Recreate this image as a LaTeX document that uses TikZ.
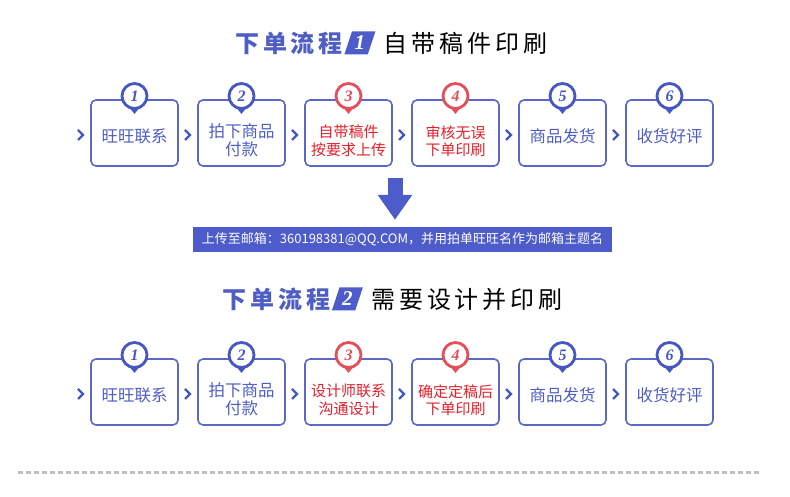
\documentclass[tikz,border=0pt]{standalone}
\usepackage{fontspec}
\newfontfamily\cjk{Noto Sans CJK SC}
\newfontfamily\cjktitle{Noto Sans CJK SC}[LetterSpace=16]
\newfontfamily\numserif{Liberation Serif}
\usepackage{tikz}
\usetikzlibrary{positioning, shapes.geometric, arrows.meta}

\definecolor{boxblue}{HTML}{5B68C9}
\definecolor{ringblue}{HTML}{4557C2}
\definecolor{txtblue}{HTML}{4F5EC4}
\definecolor{ringred}{HTML}{E4505A}
\definecolor{txtred}{HTML}{E5202B}
\definecolor{fillblue}{HTML}{4D5BCB}

% pointer under a numbered badge
\newcommand\pinpoint[2]{\fill[#2] ([shift={(-5pt,2pt)}]#1.south) -- ([shift={(5pt,2pt)}]#1.south) -- ([yshift=-4pt]#1.south) -- cycle;}

\begin{document}
\begin{tikzpicture}[
      x=1pt, y=1pt,
      box/.style={draw=boxblue, line width=1.6pt, rounded corners=5pt, minimum width=87pt, minimum height=66pt, outer sep=0pt},
      steptext/.style={align=center, inner sep=0pt, text=txtblue, font=\cjk\fontsize{16.5}{18}\selectfont},
      redtext/.style={steptext, text=txtred, font=\cjk\fontsize{15}{17.5}\selectfont},
      badge/.style={circle, draw=ringblue, line width=2.8pt, fill=white, minimum size=25pt, inner sep=0pt, text=ringblue, font=\numserif\bfseries\itshape\fontsize{16}{16}\selectfont},
      redbadge/.style={badge, draw=ringred, text=ringred},
      chev/.style={draw=ringblue, line width=2.3pt},
      headblue/.style={inner sep=0pt, text=txtblue, font=\cjktitle\bfseries\fontsize{24}{24}\selectfont},
      headblack/.style={inner sep=0pt, text=black, font=\cjktitle\fontsize{24}{24}\selectfont},
      numtag/.style={trapezium, trapezium left angle=70, trapezium right angle=110, trapezium stretches=true, fill=fillblue, text=white, minimum width=31pt, minimum height=23pt, inner sep=0pt, font=\numserif\bfseries\itshape\fontsize{21}{21}\selectfont},
      banner/.style={fill=fillblue, text=white, minimum width=419pt, minimum height=25pt, inner sep=0pt, font=\cjk\fontsize{13}{13}\selectfont},
      bigarrow/.style={draw=fillblue, line width=15pt, -{Triangle[width=33pt, length=25pt]}, shorten >=7pt},
      divider/.style={draw=gray!50, line width=3pt, dash pattern=on 5pt off 3pt}
    ]
    \fill[white] (0,0) rectangle (790,497);
    \useasboundingbox (0,0) rectangle (790,497);

    % titles
    \node[headblue] (t1) at (289,454) {下单流程};
    \node[numtag, right=5pt of t1] (g1) {1};
    \node[headblack, right=12pt of g1] (h1) {自带稿件印刷};
    \node[headblue] (t2) at (276.5,198) {下单流程};
    \node[numtag, right=5pt of t2] (g2) {2};
    \node[headblack, right=12pt of g2] (h2) {需要设计并印刷};

    % row 1
    \node[box] (s11) at (134.5,364) {};
    \node[box, right=20pt of s11] (s12) {};
    \node[box, right=20pt of s12] (s13) {};
    \node[box, right=20pt of s13] (s14) {};
    \node[box, right=20pt of s14] (s15) {};
    \node[box, right=20pt of s15] (s16) {};

    \node[steptext] (x11) at ([yshift=-3pt]s11.center) {旺旺联系};
    \node[steptext] (x12) at ([yshift=-7pt]s12.center) {拍下商品\\付款};
    \node[redtext] (x13) at ([yshift=-8pt]s13.center) {自带稿件\\按要求上传};
    \node[redtext] (x14) at ([yshift=-8pt]s14.center) {审核无误\\下单印刷};
    \node[steptext] (x15) at ([yshift=-3pt]s15.center) {商品发货};
    \node[steptext] (x16) at ([yshift=-3pt]s16.center) {收货好评};

    % row 2
    \node[box, below=193pt of s11] (s21) {};
    \node[box, right=20pt of s21] (s22) {};
    \node[box, right=20pt of s22] (s23) {};
    \node[box, right=20pt of s23] (s24) {};
    \node[box, right=20pt of s24] (s25) {};
    \node[box, right=20pt of s25] (s26) {};

    \node[steptext] (x21) at ([yshift=-3pt]s21.center) {旺旺联系};
    \node[steptext] (x22) at ([yshift=-7pt]s22.center) {拍下商品\\付款};
    \node[redtext] (x23) at ([yshift=-8pt]s23.center) {设计师联系\\沟通设计};
    \node[redtext] (x24) at ([yshift=-8pt]s24.center) {确定定稿后\\下单印刷};
    \node[steptext] (x25) at ([yshift=-3pt]s25.center) {商品发货};
    \node[steptext] (x26) at ([yshift=-3pt]s26.center) {收货好评};

    % badges
    \node[badge] (n11) at ([yshift=4pt]s11.north) {1};
    \node[badge] (n12) at ([yshift=4pt]s12.north) {2};
    \node[redbadge] (n13) at ([yshift=4pt]s13.north) {3};
    \node[redbadge] (n14) at ([yshift=4pt]s14.north) {4};
    \node[badge] (n15) at ([yshift=4pt]s15.north) {5};
    \node[badge] (n16) at ([yshift=4pt]s16.north) {6};
    \node[badge] (n21) at ([yshift=4pt]s21.north) {1};
    \node[badge] (n22) at ([yshift=4pt]s22.north) {2};
    \node[redbadge] (n23) at ([yshift=4pt]s23.north) {3};
    \node[redbadge] (n24) at ([yshift=4pt]s24.north) {4};
    \node[badge] (n25) at ([yshift=4pt]s25.north) {5};
    \node[badge] (n26) at ([yshift=4pt]s26.north) {6};

    \pinpoint{n11}{ringblue} \pinpoint{n12}{ringblue} \pinpoint{n13}{ringred}
    \pinpoint{n14}{ringred} \pinpoint{n15}{ringblue} \pinpoint{n16}{ringblue}
    \pinpoint{n21}{ringblue} \pinpoint{n22}{ringblue} \pinpoint{n23}{ringred}
    \pinpoint{n24}{ringred} \pinpoint{n25}{ringblue} \pinpoint{n26}{ringblue}

    % chevrons
    \draw[chev] ([xshift=-13pt,yshift=3pt]s11.west) -- ++(5,-5) -- ++(-5,-5);
    \draw[chev] ([xshift=-13pt,yshift=3pt]s12.west) -- ++(5,-5) -- ++(-5,-5);
    \draw[chev] ([xshift=-13pt,yshift=3pt]s13.west) -- ++(5,-5) -- ++(-5,-5);
    \draw[chev] ([xshift=-13pt,yshift=3pt]s14.west) -- ++(5,-5) -- ++(-5,-5);
    \draw[chev] ([xshift=-13pt,yshift=3pt]s15.west) -- ++(5,-5) -- ++(-5,-5);
    \draw[chev] ([xshift=-13pt,yshift=3pt]s16.west) -- ++(5,-5) -- ++(-5,-5);
    \draw[chev] ([xshift=-13pt,yshift=3pt]s21.west) -- ++(5,-5) -- ++(-5,-5);
    \draw[chev] ([xshift=-13pt,yshift=3pt]s22.west) -- ++(5,-5) -- ++(-5,-5);
    \draw[chev] ([xshift=-13pt,yshift=3pt]s23.west) -- ++(5,-5) -- ++(-5,-5);
    \draw[chev] ([xshift=-13pt,yshift=3pt]s24.west) -- ++(5,-5) -- ++(-5,-5);
    \draw[chev] ([xshift=-13pt,yshift=3pt]s25.west) -- ++(5,-5) -- ++(-5,-5);
    \draw[chev] ([xshift=-13pt,yshift=3pt]s26.west) -- ++(5,-5) -- ++(-5,-5);

    % e-mail note
    \node[banner] (banner) at (402.5,257.5) {上传至邮箱：360198381@QQ.COM，并用拍单旺旺名作为邮箱主题名};
    \coordinate (drop) at (395,319);
    \draw[bigarrow] (drop) -- (drop |- banner.north);

    % bottom rule
    \coordinate (dl) at (18,24);
    \coordinate (dr) at (762,24);
    \draw[divider] (dl) -- (dr);
  \end{tikzpicture}
\end{document}
